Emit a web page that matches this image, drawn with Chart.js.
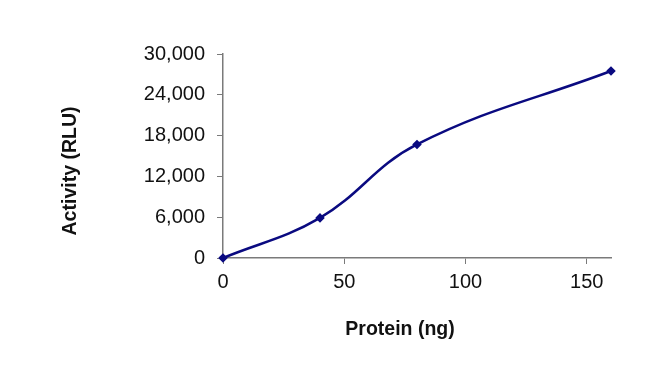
<!DOCTYPE html>
<html>
<head>
<meta charset="utf-8">
<script src="https://cdn.jsdelivr.net/npm/chart.js@4/dist/chart.umd.min.js"></script>
<style>
  html, body { margin: 0; padding: 0; background: #ffffff; }
  #wrap { width: 670px; height: 368px; position: relative; }
</style>
</head>
<body>
<div id="wrap"><canvas id="c" width="670" height="368"></canvas></div>
<script>
const proteinNg = [0, 40, 80, 160];
const activityRLU = [0, 5900, 16700, 27500];
const yTicks = [0, 6000, 12000, 18000, 24000, 30000];
const xTicks = [0, 50, 100, 150];
const xTitle = 'Protein (ng)';
const yTitle = 'Activity (RLU)';

const points = proteinNg.map((x, i) => ({ x: x, y: activityRLU[i] }));
const FONT = '"Liberation Sans", Arial, sans-serif';
const AXIS = '#7a7a7a';

// Axis titles drawn as canvas text at the positions used by the original figure
const axisTitles = {
  id: 'axisTitles',
  afterDraw(chart) {
    const ctx = chart.ctx;
    ctx.save();
    ctx.fillStyle = '#111';
    ctx.font = 'bold 19.5px ' + FONT;
    ctx.textAlign = 'center';
    ctx.textBaseline = 'middle';
    ctx.fillText(xTitle, 400, 330);
    ctx.translate(70.5, 171);
    ctx.rotate(-Math.PI / 2);
    ctx.fillText(yTitle, 0, 0);
    ctx.restore();
  }
};

new Chart(document.getElementById('c'), {
  type: 'line',
  data: {
    datasets: [{
      data: points,
      borderColor: '#0a0a80',
      backgroundColor: '#0a0a80',
      borderWidth: 2.5,
      tension: 0.4,
      pointStyle: 'rectRot',
      pointRadius: 3,
      pointHoverRadius: 3,
      fill: false,
      clip: false
    }]
  },
  plugins: [axisTitles],
  options: {
    responsive: false,
    animation: false,
    events: [],
    layout: { padding: { left: 52, top: 54, right: 59, bottom: 26 } },
    plugins: { legend: { display: false }, tooltip: { enabled: false } },
    scales: {
      x: {
        type: 'linear',
        min: 0, max: 160,
        afterBuildTicks: s => { s.ticks = xTicks.map(v => ({ value: v })); },
        ticks: { color: '#111', font: { family: FONT, size: 20 }, padding: 6 },
        grid: { drawOnChartArea: false, drawTicks: true, tickLength: 6, color: AXIS },
        border: { display: true, color: AXIS, width: 1.5 },
        title: { display: false, text: xTitle },
        afterFit: s => { s.height = 342 - 258; }
      },
      y: {
        type: 'linear',
        min: 0, max: 30000,
        afterBuildTicks: s => { s.ticks = yTicks.map(v => ({ value: v })); },
        ticks: {
          color: '#111', font: { family: FONT, size: 20 }, padding: 12,
          callback: v => v.toLocaleString('en-US')
        },
        grid: { drawOnChartArea: false, drawTicks: true, tickLength: 6, color: AXIS },
        border: { display: true, color: AXIS, width: 1.5 },
        title: { display: false, text: yTitle },
        afterFit: s => { s.width = 223 - 52; }
      }
    }
  }
});
</script>
</body>
</html>
